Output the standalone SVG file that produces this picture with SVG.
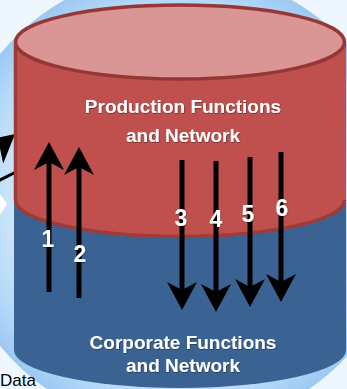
<svg xmlns="http://www.w3.org/2000/svg" width="347" height="389" viewBox="0 0 347 389">
<defs>
<radialGradient id="bg" cx="178" cy="200" r="230" gradientUnits="userSpaceOnUse">
<stop offset="0" stop-color="#ffffff"/>
<stop offset="0.6" stop-color="#dcedfc"/>
<stop offset="0.86" stop-color="#b7daf8"/>
<stop offset="1" stop-color="#9cc8f2"/>
</radialGradient>
<marker id="head" viewBox="0 -15 28 30" refX="8" refY="0" markerWidth="28" markerHeight="30" markerUnits="userSpaceOnUse" orient="auto">
<path d="M28,0 L0,-15 L8,0 L0,15 Z" fill="#000"/>
</marker>
<filter id="sh" x="-20%" y="-20%" width="140%" height="140%">
<feDropShadow dx="0.5" dy="0.7" stdDeviation="0.6" flood-color="#000" flood-opacity="0.5"/>
</filter>
</defs>
<style>
.lbl{font-family:"Liberation Sans",Arial,sans-serif;font-weight:bold;fill:#fff;text-anchor:middle;filter:url(#sh)}
.ttl{font-size:19px}
.num{font-size:23px}
.arr{stroke:#000;stroke-width:5;fill:none;marker-end:url(#head)}
</style>
<rect width="347" height="389" fill="#eef6fe"/>
<circle cx="178" cy="200" r="230" fill="url(#bg)"/>
<g id="fragments">
<polygon points="15,134 -16,140.5 -0.3,147 3.2,163.5" fill="#000"/>
<line x1="-1" y1="180.5" x2="15" y2="172.5" stroke="#000" stroke-width="3"/>
<polygon points="0,194 7,204 1,214 0,214" fill="#fff"/>
</g>
<text x="0" y="386" font-family="Liberation Sans, Arial, sans-serif" font-size="17" fill="#000">Data</text>
<g id="corporate">
<path d="M14,200 L14,350 A166,38 0 0 0 346,350 L346,200 Z" fill="#3a6393"/>
<text class="lbl ttl" x="183" y="349">Corporate Functions</text>
<text class="lbl ttl" x="183" y="372">and Network</text>
</g>
<g id="production">
<path d="M14,42 L14,200 A166,38 0 0 0 346,200 L346,42 Z" fill="#c0504d"/>
<path d="M15.5,44 L15.5,200 A164.5,36.5 0 0 0 344.5,200" fill="none" stroke="#9e3c3a" stroke-width="3.5"/>
<ellipse cx="180" cy="42" rx="164.5" ry="37" fill="#d99694" stroke="#953735" stroke-width="3.5"/>
<text class="lbl ttl" x="183" y="113">Production Functions</text>
<text class="lbl ttl" x="183" y="142">and Network</text>
</g>
<g id="connectors">
<line class="arr" x1="49" y1="292" x2="49" y2="162"/>
<line class="arr" x1="79" y1="298" x2="79" y2="167"/>
<line class="arr" x1="182" y1="160" x2="182" y2="290"/>
<line class="arr" x1="216" y1="161" x2="216" y2="292"/>
<line class="arr" x1="250" y1="157" x2="250" y2="287"/>
<line class="arr" x1="281" y1="152" x2="281" y2="282"/>
</g>
<g id="labels">
<text class="lbl num" x="48" y="247">1</text>
<text class="lbl num" x="80" y="262">2</text>
<text class="lbl num" x="181" y="226">3</text>
<text class="lbl num" x="216" y="227">4</text>
<text class="lbl num" x="248" y="222">5</text>
<text class="lbl num" x="282" y="216">6</text>
</g>
</svg>
